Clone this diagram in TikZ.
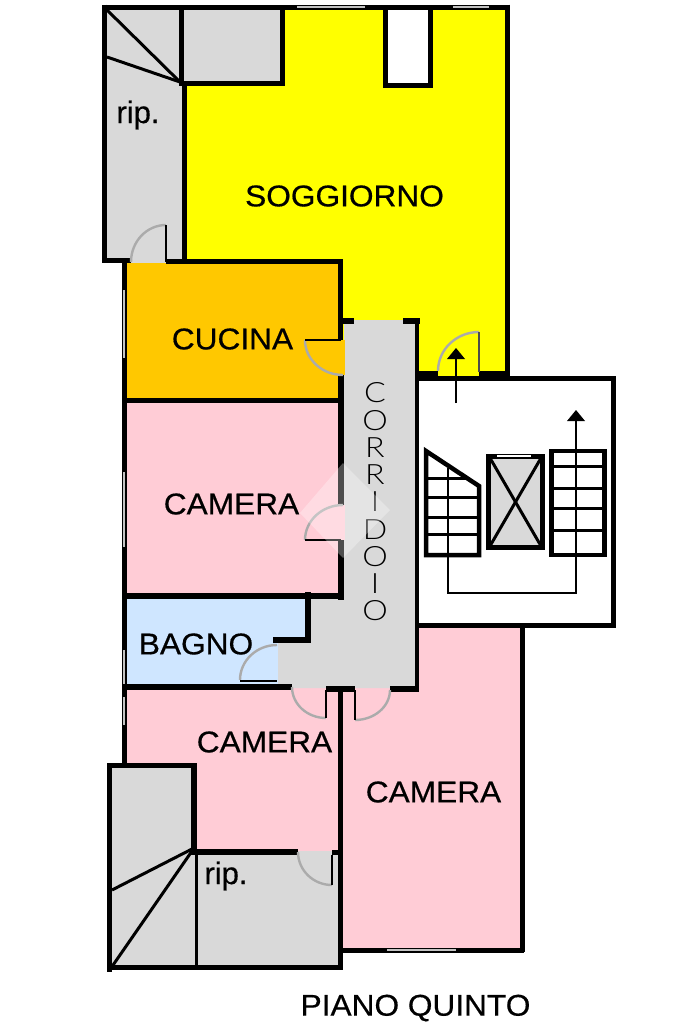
\documentclass[tikz,border=0pt]{standalone}
\usepackage{fontspec}
\setmainfont{Liberation Sans}
\newfontfamily\planfont[FakeStretch=1.055,FakeBold=0.5]{Liberation Sans}
\newfontfamily\ripfont[FakeBold=0.5]{Liberation Sans}
\newfontfamily\thinfont[FakeStretch=1.15]{Lato Light}
\definecolor{ygl}{HTML}{FFFF00}
\definecolor{gry}{HTML}{D9D9D9}
\definecolor{org}{HTML}{FFC800}
\definecolor{pnk}{HTML}{FFCCD6}
\definecolor{blu}{HTML}{CFE6FF}
\definecolor{arcg}{HTML}{ABABAB}
\definecolor{winl}{HTML}{C4C4C4}
\tikzset{
  wall/.style={line width=5pt,line join=miter,line cap=butt},
  thick wall/.style={line width=6pt,line join=miter,line cap=butt},
  thin wall/.style={line width=3pt,line cap=butt},
  leaf/.style={line width=2pt,line cap=butt},
  swing/.style={draw=arcg,line width=2.4pt},
  win/.style={draw=winl,line width=2pt},
  label/.style={font=\planfont\fontsize{30}{30}\selectfont,inner sep=0pt,text=black},
  small label/.style={font=\ripfont\fontsize{31}{31}\selectfont,inner sep=0pt,text=black},
  arrowhead/.style={fill=black,draw=none}
}
\begin{document}
\begin{tikzpicture}[x=1pt,y=-1pt]
\useasboundingbox (0,0) rectangle (683,1023);
\fill[white] (0,0) rectangle (683,1023);
% fills
\fill[ygl] (184,7) -- (507,7) -- (507,376) -- (342,376) -- (342,262) -- (184,262) -- cycle;
\fill[white] (386,7) rectangle (430,85);
\fill[gry] (104,7) rectangle (282,84);
\fill[gry] (104,7) rectangle (184,263);
\fill[org] (124,263) rectangle (341,400);
\fill[pnk] (124,400) rectangle (341,596);
\fill[blu] (124,596) rectangle (308,686);
\fill[pnk] (124,686) rectangle (341,851);
\fill[gry] (110,766) rectangle (194,968);
\fill[gry] (194,851) rectangle (341,968);
\fill[pnk] (341,688) -- (417,688) -- (417,626) -- (522,626) -- (522,950) -- (341,950) -- cycle;
\fill[white] (417,378) rectangle (614,626);
\fill[gry] (344,320) -- (417,320) -- (417,688) -- (278,688) -- (278,640) -- (308,640) -- (308,596) -- (344,596) -- cycle;
\fill[org] (338,340) rectangle (345,375);
\fill[pnk] (338,505) rectangle (345,540);
% outer walls, upper closet
\draw[wall] (104,4.5) -- (104,263);
\draw[wall] (102,7) -- (510,7);
\draw[wall] (181,7) -- (181,84);
\draw[wall] (282.5,7) -- (282.5,86);
\draw[wall] (179,83.5) -- (285,83.5);
\draw[wall] (184.5,82) -- (184.5,263);
\draw[wall] (102,260.5) -- (131,260.5);
\draw[line width=3pt] (107,10) -- (180,82);
\draw[line width=3pt] (107,57) -- (180,82);
% niche
\draw[wall] (385.5,7) -- (385.5,88);
\draw[wall] (430,7) -- (430,88);
\draw[wall] (383,85.5) -- (433,85.5);
\draw[wall] (507.5,4.5) -- (507.5,376);
\draw[win] (297,7) -- (365,7);
\draw[win] (453,7) -- (489,7);
% room walls
\draw[wall] (166,261.5) -- (342,261.5);
\draw[wall] (124,259) -- (124,766);
\draw[win] (124,290) -- (124,358);
\draw[win] (124,472) -- (124,547);
\draw[win] (124,650) -- (124,685);
\draw[win] (124,697) -- (124,725);
\draw[wall] (340.5,259) -- (340.5,340);
\draw[thick wall] (341,375) -- (341,505);
\draw[thick wall] (341,540) -- (341,600);
\draw[wall] (122,400) -- (341,400);
\draw[thick wall] (122,595.5) -- (344,595.5);
\draw[thick wall] (307.5,592) -- (307.5,643);
\draw[thick wall] (273,640) -- (311,640);
\draw[thick wall] (122,687) -- (292,687);
\draw[thick wall] (326,688.5) -- (355,688.5);
\draw[thick wall] (390,688.5) -- (419,688.5);
\draw[wall] (340.5,690) -- (340.5,970);
\draw[thick wall] (342,320.5) -- (354,320.5);
\draw[thick wall] (403,320.5) -- (419.5,320.5);
\draw[line width=4.5pt] (417,318) -- (417,692);
% right camera
\draw[wall] (522,624) -- (522,952);
\draw[wall] (338,950) -- (524,950);
\draw[win] (387,949.5) -- (456,949.5);
% soggiorno bottom wall
\draw[wall] (415,373) -- (438,373);
\draw[wall] (479,373) -- (510,373);
% stair block
\draw[wall] (417,378.5) -- (616,378.5);
\draw[wall] (613.5,376) -- (613.5,628);
\draw[wall] (415,625.5) -- (616,625.5);
% left stair
\draw[line width=4.5pt,line join=miter] (426,451) -- (479,486) -- (479,555) -- (426,555) -- cycle;
\draw[line width=3pt] (426,478) -- (468,478);
\draw[line width=3pt] (426,497) -- (479,497);
\draw[line width=3pt] (426,517) -- (479,517);
\draw[line width=3pt] (426,534) -- (479,534);
% lift
\draw[line width=5pt,fill=gry] (488.5,456.5) rectangle (542.5,547.5);
\draw[line width=3pt] (490,458) -- (541,546);
\draw[line width=3pt] (541,458) -- (490,546);
\draw[line width=2pt,white] (497,456) -- (531,456);
% right stair
\draw[line width=4.5pt] (551.5,451) rectangle (604.5,555);
\draw[line width=3pt] (551.5,466) -- (604.5,466);
\draw[line width=3pt] (551.5,488) -- (604.5,488);
\draw[line width=3pt] (551.5,508) -- (604.5,508);
\draw[line width=3pt] (551.5,530) -- (604.5,530);
% flight lines and arrows
\coordinate (walkA) at (448,468);
\coordinate (walkB) at (448,593);
\coordinate (walkC) at (576,593);
\coordinate (walkD) at (576,420);
\draw[line width=2.6pt,line join=miter] (walkA) -- (walkB) -- (walkC) -- (walkD);
\fill[arrowhead] (576,410) -- (585,421) -- (567,421) -- cycle;
\coordinate (entryA) at (456,403);
\coordinate (entryB) at (456,358);
\draw[line width=2.6pt] (entryA) -- (entryB);
\fill[arrowhead] (456,348) -- (465,359) -- (447,359) -- cycle;
% lower closet
\draw[wall] (109.5,763) -- (109.5,972);
\draw[wall] (107,765.5) -- (197,765.5);
\draw[thick wall] (194,763) -- (194,855);
\draw[thick wall] (191,851.5) -- (298,851.5);
\draw[wall] (332,852.5) -- (343,852.5);
\draw[thin wall] (196,855) -- (196,968);
\draw[wall] (107,967.5) -- (343,967.5);
\draw[line width=3pt] (112,890) -- (192,849);
\draw[line width=3pt] (111,968) -- (192,851);
% doors
\draw[swing] (166,225) arc[start angle=270,end angle=180,x radius=35,y radius=37];
\draw[leaf] (166,225) -- (166,262);
\draw[swing] (479,332) arc[start angle=270,end angle=180,x radius=41,y radius=39];
\draw[leaf,black!70] (479,332) -- (479,372);
\draw[swing] (305,340) arc[start angle=180,end angle=90,x radius=38,y radius=35];
\draw[leaf] (305,340) -- (341,340);
\draw[swing] (305,540) arc[start angle=180,end angle=270,x radius=38,y radius=35];
\draw[leaf] (305,540) -- (341,540);
\draw[swing] (277,645) arc[start angle=270,end angle=180,x radius=37,y radius=35];
\draw[leaf] (240,680.5) -- (277,680.5);
\draw[swing] (292,687) arc[start angle=180,end angle=90,x radius=34,y radius=31];
\draw[leaf] (326,690) -- (326,718);
\draw[swing] (390,690) arc[start angle=0,end angle=90,x radius=35,y radius=30];
\draw[leaf] (355,690) -- (355,720);
\draw[swing] (298,852) arc[start angle=180,end angle=90,x radius=34,y radius=33];
\draw[leaf] (332,855) -- (332,885);
% labels
\node[label] (soggiorno) at (344.5,196) {SOGGIORNO};
\node[label] (cucina) at (232.5,339) {CUCINA};
\node[label] (camera1) at (231.5,504) {CAMERA};
\node[label] (bagno) at (196,644) {BAGNO};
\node[label] (camera2) at (264.5,742) {CAMERA};
\node[label] (camera3) at (433.5,792) {CAMERA};
\node[small label] (rip1) at (138,115) {rip.};
\node[small label] (rip2) at (226,876) {rip.};
\node[label] (piano) at (415.5,1008) {PIANO QUINTO};
\node[font=\thinfont\fontsize{28}{27.25}\selectfont,inner sep=0pt,align=center] (corridoio) at (375,502) {C\\O\\R\\R\\I\\D\\O\\I\\O};
% watermark
\fill[white,opacity=0.3] (343,463) -- (390,510) -- (343,558) -- (300,513) -- cycle;
\end{tikzpicture}
\end{document}
